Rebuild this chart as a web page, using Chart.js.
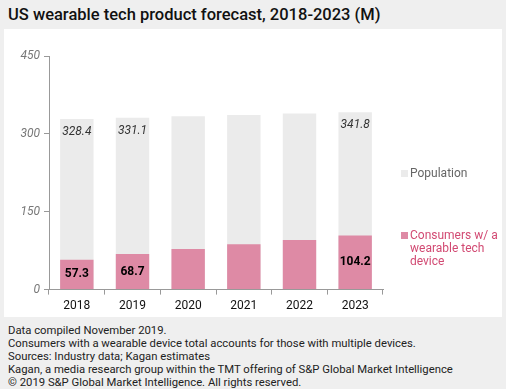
<!DOCTYPE html>
<html>
<head>
<meta charset="utf-8">
<script src="https://cdn.jsdelivr.net/npm/chart.js@4"></script>
<style>
  html, body { margin: 0; padding: 0; }
  body { width: 506px; height: 389px; background: #efefef; font-family: Roboto, "Liberation Sans", sans-serif; position: relative; overflow: hidden; }
  #title { position: absolute; left: 8px; top: 5px; font-size: 16.5px; font-weight: 500; color: #111; white-space: nowrap; }
  #panel { position: absolute; left: 4px; top: 29px; width: 498px; height: 288px; background: #fff; }
  #footer { position: absolute; left: 8px; top: 324px; font-size: 11.3px; line-height: 13px; color: #222; white-space: nowrap; }
</style>
</head>
<body>
<div id="title">US wearable tech product forecast, 2018-2023 (M)</div>
<div id="panel"><canvas id="c" width="498" height="288"></canvas></div>
<div id="footer">
  Data compiled November 2019.<br>
  Consumers with a wearable device total accounts for those with multiple devices.<br>
  Sources: Industry data; Kagan estimates<br>
  Kagan, a media research group within the TMT offering of S&amp;P Global Market Intelligence<br>
  © 2019 S&amp;P Global Market Intelligence. All rights reserved.
</div>
<script>
// données
const years = ['2018', '2019', '2020', '2021', '2022', '2023'];
const population = [328.4, 331.1, 333.8, 336.5, 339.2, 341.8];
const consumers = [57.3, 68.7, 78.0, 87.5, 95.5, 104.2];
const labelledYears = [0, 1, 5]; // seules ces colonnes ont une étiquette

const pink = '#de8aa5';
const grey = '#ebebeb';

// étiquettes de valeurs + légende dessinées à la main
const valueLabels = {
  id: 'valueLabels',
  afterDatasetsDraw(chart) {
    const ctx = chart.ctx;
    const consMeta = chart.getDatasetMeta(0);
    const popMeta = chart.getDatasetMeta(1);
    ctx.save();
    ctx.textAlign = 'center';
    ctx.textBaseline = 'middle';
    labelledYears.forEach(i => {
      let p = popMeta.data[i];
      ctx.fillStyle = '#333';
      ctx.font = 'italic 12px Roboto, "Liberation Sans", sans-serif';
      ctx.fillText(population[i].toFixed(1), p.x, p.y + 13);
      let c = consMeta.data[i];
      ctx.fillStyle = '#000';
      ctx.font = 'bold 12px Roboto, "Liberation Sans", sans-serif';
      ctx.fillText(consumers[i].toFixed(1), c.x, (c.y + c.base) / 2);
    });

    // légende à droite
    ctx.textAlign = 'left';
    ctx.font = '12px Roboto, "Liberation Sans", sans-serif';
    let lx = chart.chartArea.right + 18;
    ctx.fillStyle = grey;
    ctx.fillRect(lx, 141, 7, 7);
    ctx.fillStyle = '#666';
    ctx.fillText(chart.data.datasets[1].label, lx + 9, 145);
    ctx.fillStyle = pink;
    ctx.fillRect(lx, 203, 7, 7);
    ctx.fillStyle = '#d24a73';
    ['Consumers w/ a', 'wearable tech', 'device'].forEach((t, k) => {
      ctx.fillText(t, lx + 9, 207 + k * 13);
    });
    ctx.restore();
  }
};

new Chart(document.getElementById('c'), {
  type: 'bar',
  data: {
    labels: years,
    datasets: [
      { label: 'Consumers w/ a wearable tech device', data: consumers, backgroundColor: pink,
        barPercentage: 0.6, categoryPercentage: 1 },
      { label: 'Population', data: population, backgroundColor: grey,
        barPercentage: 0.6, categoryPercentage: 1 }
    ]
  },
  options: {
    responsive: false,
    animation: false,
    layout: { padding: { top: 27, right: 119, left: 0, bottom: 0 } },
    plugins: { legend: { display: false }, tooltip: { enabled: false } },
    scales: {
      x: {
        stacked: true,
        grid: { drawOnChartArea: false, offset: true, tickLength: 5, color: '#999' },
        border: { color: '#999' },
        ticks: { color: '#111', font: { size: 12, family: 'Roboto' }, padding: 4 }
      },
      y: {
        stacked: false,
        min: 0, max: 450,
        afterFit: s => { s.width = 45; },
        grid: { drawOnChartArea: false, tickLength: 5, color: '#999' },
        border: { color: '#999' },
        ticks: { stepSize: 150, color: '#777', font: { size: 12, style: 'italic', family: 'Roboto' }, padding: 4 }
      }
    }
  },
  plugins: [valueLabels]
});
</script>
</body>
</html>
